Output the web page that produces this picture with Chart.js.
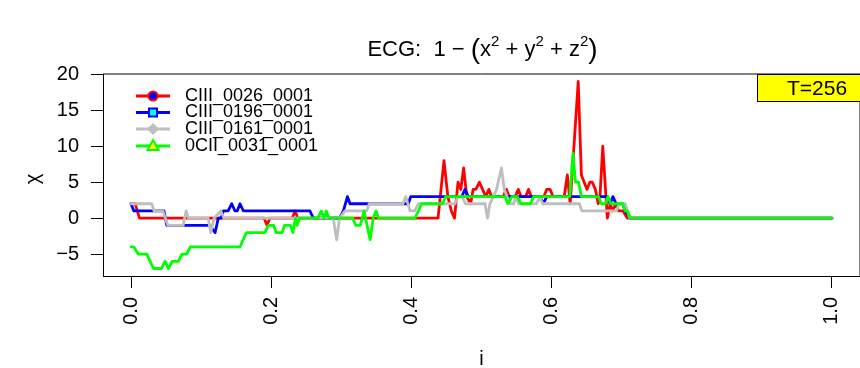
<!DOCTYPE html>
<html><head><meta charset="utf-8">
<script src="https://cdn.jsdelivr.net/npm/chart.js@4/dist/chart.umd.min.js"></script>
<style>html,body{margin:0;padding:0;background:#fff}canvas{display:block}</style>
</head><body>
<canvas id="c" width="860" height="368"></canvas>
<script>
// ---- data ----
const seriesNames = ["CIII_0026_0001", "CIII_0196_0001", "CIII_0161_0001", "0CII_0031_0001"];
const xTickValues = [0, 0.2, 0.4, 0.6, 0.8, 1.0];
const xTickLabels = ["0.0", "0.2", "0.4", "0.6", "0.8", "1.0"];
const yTickValues = [-5, 0, 5, 10, 15, 20];
const yTickLabels = ["\u22125", "0", "5", "10", "15", "20"];
const titleText = ["ECG:  1 \u2212 ", "(", "x", "2", " + y", "2", " + z", "2", ")"];
const xAxisTitle = "i";
const yAxisTitle = "\u03C7";
const boxLabel = "T=256";

const redX = [0,0.006,0.012,0.19,0.194,0.198,0.23,0.234,0.238,0.438,0.4465,0.452,0.457,0.4615,0.4665,0.4705,0.4745,0.479,0.4845,0.488,0.492,0.497,0.5015,0.506,0.5105,0.5145,0.531,0.5355,0.5395,0.548,0.5525,0.5565,0.563,0.567,0.571,0.589,0.593,0.598,0.602,0.618,0.6225,0.6265,0.638,0.6425,0.6465,0.6505,0.6545,0.658,0.6625,0.6665,0.669,0.673,0.6795,0.6835,0.687,0.6915,0.6955,0.702,0.708,1];
const redY = [2,2,0,0,-1,0,0,1,0,0,8,3,1,0,5,4,7,3,2,4,4,5,4,3,4,3,3,4,3,3,4,3,3,4,3,3,4,4,3,3,6,2,19,6,5,4,5,5,4,2,3,10,0,2,1,2,1,1,0,0];

const blueX = [0,0.004,0.047,0.051,0.112,0.12,0.1245,0.1285,0.1317,0.1385,0.1436,0.1483,0.1515,0.1555,0.1603,0.2553,0.26,0.2975,0.303,0.3087,0.3124,0.3956,0.399,0.4718,0.4765,0.4812,0.5835,0.5882,0.593,0.6795,0.6835,0.6875,0.692,0.7015,0.705,0.7125,1];
const blueY = [2,1,1,-1,-1,-2,0,0,1,1,2,1,1,2,1,1,0,0,1,3,2,2,3,3,4,3,3,2,3,3,2,3,2,2,1,0,0];

const greyX = [0,0.0295,0.033,0.0455,0.0525,0.0745,0.0785,0.082,0.110,0.1137,0.1185,0.128,0.1326,0.2885,0.2934,0.2975,0.3053,0.336,0.3398,0.388,0.392,0.398,0.4045,0.41,0.462,0.4665,0.4725,0.477,0.505,0.5085,0.512,0.517,0.5215,0.5285,0.5325,0.5365,0.541,0.546,0.549,0.553,0.5785,0.583,0.5875,0.64,0.643,0.6925,0.6965,0.705,0.7115,1];
const greyY = [2,2,1,1,-1,-1,1,0,0,-2,0,1,0,0,-3,0,1,1,2,2,3,1,1,2,2,3,3,2,2,0,2,3,4,7,4,3,2,2,3,2,2,3,2,2,1,1,2,2,0,0];

const greenX = [0,0.004,0.0105,0.0225,0.032,0.0435,0.0485,0.0535,0.0585,0.0675,0.0725,0.0795,0.0845,0.1555,0.1645,0.191,0.1959,0.2035,0.207,0.2155,0.219,0.2275,0.231,0.2345,0.237,0.2405,0.2665,0.2715,0.2755,0.2785,0.2825,0.3165,0.3205,0.327,0.3325,0.341,0.3455,0.3495,0.353,0.405,0.41,0.4145,0.444,0.449,0.5335,0.5375,0.5435,0.551,0.5565,0.5695,0.5745,0.626,0.6305,0.634,0.6385,0.6425,0.667,0.671,0.6765,0.6805,0.6845,0.7015,0.705,0.708,0.7125,1];
const greenY = [-4,-4,-5,-5,-7,-7,-6,-7,-6,-6,-5,-5,-4,-4,-2,-2,-1,-1,-2,-2,-1,-1,-2,0,-1,0,0,1,0,1,0,0,-1,-1,1,-3,0,1,0,0,1,2,2,3,3,2,3,3,2,2,3,3,9,5,5,3,3,2,2,3,2,2,1,1,0,0];

const seriesColors = ["#FF0000", "#0000FF", "#BEBEBE", "#00FF00"];
const seriesX = [redX, blueX, greyX, greenX];
const seriesY = [redY, blueY, greyY, greenY];

// ---- layout constants ----
const AREA = {left: 103, top: 74, right: 860, bottom: 276};
const FONT = "'Liberation Sans', Arial, Helvetica, sans-serif";

const datasets = seriesNames.map((name, k) => ({
  label: name,
  data: seriesX[k].map((x, i) => ({x: x, y: seriesY[k][i]})),
  borderColor: seriesColors[k],
  backgroundColor: seriesColors[k],
  borderWidth: 2.8,
  pointRadius: 0,
  tension: 0,
  fill: false,
  borderJoinStyle: 'round',
  borderCapStyle: 'round',
  order: 3 - k
}));

const decorPlugin = {
  id: 'decor',
  afterDraw(chart) {
    const ctx = chart.ctx;
    const ca = chart.chartArea;
    ctx.save();
    // box top & right
    ctx.strokeStyle = '#000';
    ctx.lineWidth = 1;
    ctx.beginPath();
    ctx.moveTo(ca.left, ca.top);
    ctx.lineTo(ca.right, ca.top);
    ctx.lineTo(ca.right, ca.bottom);
    ctx.stroke();

    // title with superscripts and taller parentheses
    const tf = 22, sf = 15, pf = 28;
    const base = 56;
    const styleOf = s => (s === "2" ? {size: sf, dy: -10} : (s === "(" || s === ")") ? {size: pf, dy: 2} : {size: tf, dy: 0});
    ctx.fillStyle = '#000';
    ctx.textBaseline = 'alphabetic';
    ctx.textAlign = 'left';
    const widths = titleText.map(s => {
      ctx.font = styleOf(s).size + 'px ' + FONT;
      return ctx.measureText(s).width;
    });
    const total = widths.reduce((a, b) => a + b, 0);
    let x = (ca.left + ca.right) / 2 - total / 2 + 1;
    titleText.forEach((s, i) => {
      const st = styleOf(s);
      ctx.font = st.size + 'px ' + FONT;
      ctx.fillText(s, x, base + st.dy);
      x += widths[i];
    });

    // axis titles
    ctx.font = '20px ' + FONT;
    ctx.textAlign = 'center';
    ctx.textBaseline = 'middle';
    ctx.fillText(xAxisTitle, (ca.left + ca.right) / 2, 359);
    ctx.save();
    ctx.translate(33, (ca.top + ca.bottom) / 2 + 4);
    ctx.rotate(-Math.PI / 2);
    ctx.fillText(yAxisTitle, 0, 0);
    ctx.restore();

    // legend (line + marker + label)
    const rows = [96, 112.5, 129, 146];
    ctx.font = '18px ' + FONT;
    ctx.textAlign = 'left';
    ctx.textBaseline = 'middle';
    seriesNames.forEach((name, k) => {
      const y = rows[k];
      ctx.strokeStyle = seriesColors[k];
      ctx.lineWidth = 2.8;
      ctx.beginPath();
      ctx.moveTo(136, y); ctx.lineTo(170, y); ctx.stroke();
      const cx = 153;
      ctx.lineWidth = 2;
      if (k === 0) {
        ctx.fillStyle = '#0000FF'; ctx.strokeStyle = '#FF0000';
        ctx.beginPath(); ctx.arc(cx, y, 4.5, 0, Math.PI * 2); ctx.fill(); ctx.stroke();
      } else if (k === 1) {
        ctx.fillStyle = '#00FFFF'; ctx.strokeStyle = '#0000FF';
        ctx.fillRect(cx - 4, y - 4, 8, 8); ctx.strokeRect(cx - 4, y - 4, 8, 8);
      } else if (k === 2) {
        ctx.fillStyle = '#BEBEBE';
        ctx.beginPath(); ctx.moveTo(cx, y - 6); ctx.lineTo(cx + 6, y); ctx.lineTo(cx, y + 6); ctx.lineTo(cx - 6, y); ctx.closePath(); ctx.fill();
      } else {
        ctx.fillStyle = '#FFFF00'; ctx.strokeStyle = '#00FF00';
        ctx.beginPath(); ctx.moveTo(cx, y - 6); ctx.lineTo(cx + 5.5, y + 4); ctx.lineTo(cx - 5.5, y + 4); ctx.closePath(); ctx.fill(); ctx.stroke();
      }
      ctx.fillStyle = '#000';
      ctx.fillText(name, 185, y);
    });

    // T=256 box
    ctx.fillStyle = '#FFFF00';
    ctx.fillRect(757, 74, 110, 28);
    ctx.strokeStyle = '#000';
    ctx.lineWidth = 1;
    ctx.strokeRect(757.5, 74.5, 110, 27);
    ctx.fillStyle = '#000';
    ctx.font = '21px ' + FONT;
    ctx.textAlign = 'left';
    ctx.textBaseline = 'middle';
    ctx.fillText(boxLabel, 787, 89);
    ctx.restore();
  }
};

new Chart(document.getElementById('c'), {
  type: 'line',
  data: { datasets: datasets },
  plugins: [decorPlugin],
  options: {
    responsive: false,
    animation: false,
    devicePixelRatio: 1,
    layout: { padding: { top: AREA.top, right: 0, left: 0, bottom: 0 } },
    plugins: { legend: { display: false }, tooltip: { enabled: false }, title: { display: false } },
    scales: {
      x: {
        type: 'linear',
        min: -0.04, max: 1.04,
        afterBuildTicks: s => { s.ticks = xTickValues.map(v => ({value: v})); },
        afterFit: s => { s.height = 368 - AREA.bottom; s.paddingLeft = 0; s.paddingRight = 0; },
        grid: { display: true, drawOnChartArea: false, drawTicks: true, tickLength: 12, color: '#000', lineWidth: 1 },
        border: { display: true, color: '#000', width: 1 },
        ticks: {
          autoSkip: false, minRotation: 90, maxRotation: 90, padding: 9, color: '#000',
          font: { family: FONT, size: 20 },
          callback: (v) => { const i = xTickValues.indexOf(v); return i >= 0 ? xTickLabels[i] : ''; }
        }
      },
      y: {
        type: 'linear',
        min: -8.04, max: 20.04,
        afterBuildTicks: s => { s.ticks = yTickValues.map(v => ({value: v})); },
        afterFit: s => { s.width = AREA.left; },
        grid: { display: true, drawOnChartArea: false, drawTicks: true, tickLength: 12, color: '#000', lineWidth: 1 },
        border: { display: true, color: '#000', width: 1 },
        ticks: {
          padding: 12, color: '#000',
          font: { family: FONT, size: 20 },
          callback: (v) => { const i = yTickValues.indexOf(v); return i >= 0 ? yTickLabels[i] : ''; }
        }
      }
    }
  }
});
</script>
</body></html>
